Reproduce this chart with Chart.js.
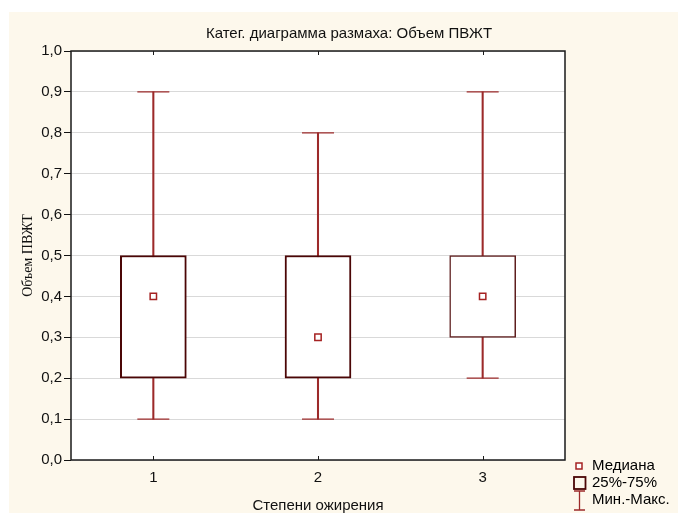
<!DOCTYPE html>
<html><head><meta charset="utf-8">
<script src="https://cdn.jsdelivr.net/npm/chart.js@4"></script>
<style>html,body{margin:0;padding:0;background:#fff;}#wrap{width:678px;height:513px;}</style>
</head><body><div id="wrap"><canvas id="c" width="678" height="513"></canvas></div>
<script>
const categories = ['1', '2', '3'];
const minValues = [0.1, 0.1, 0.2];
const q1Values = [0.2, 0.2, 0.3];
const medianValues = [0.4, 0.3, 0.4];
const q3Values = [0.5, 0.5, 0.5];
const maxValues = [0.9, 0.8, 0.9];
const yTickValues = [0, 0.1, 0.2, 0.3, 0.4, 0.5, 0.6, 0.7, 0.8, 0.9, 1.0];
const legendLabels = ['Медиана', '25%-75%', 'Мин.-Макс.'];
const chartTitle = 'Катег. диаграмма размаха: Объем ПВЖТ';
const xTitle = 'Степени ожирения';
const yTitle = 'Объем ПВЖТ';

const SANS = '"Liberation Sans", Arial, sans-serif';
const BOX_COL = '#4b0606';
const WHISK_COL = '#9c2a2a';
const MED_COL = '#a52222';

const boxData = q1Values.map((q, i) => [q, q3Values[i]]);
const whiskData = minValues.map((m, i) => [m, maxValues[i]]);

const decor = {
  id: 'decor',
  beforeDraw(chart) {
    const { ctx, chartArea: a } = chart;
    ctx.save();
    ctx.fillStyle = '#fdf8ec';
    ctx.fillRect(9, 12, 669, 501);
    ctx.fillStyle = '#ffffff';
    ctx.fillRect(a.left, a.top, a.right - a.left, a.bottom - a.top);
    ctx.restore();
  },
  afterDatasetsDraw(chart) {
    const { ctx, chartArea: a, scales } = chart;
    ctx.save();
    ctx.strokeStyle = '#1a1a1a';
    ctx.lineWidth = 1.5;
    ctx.strokeRect(a.left, a.top, a.right - a.left, a.bottom - a.top);
    ctx.lineWidth = 1;
    categories.forEach((c, i) => {
      const x = Math.round(scales.x.getPixelForValue(i)) + 0.5;
      ctx.beginPath();
      ctx.moveTo(x, a.top); ctx.lineTo(x, a.top + 4);
      ctx.moveTo(x, a.bottom); ctx.lineTo(x, a.bottom - 4);
      ctx.stroke();
    });
    ctx.restore();
  },
  afterDraw(chart) {
    const { ctx } = chart;
    ctx.save();
    ctx.font = '15px ' + SANS;
    ctx.textBaseline = 'middle';
    ctx.textAlign = 'left';
    const ys = [466, 483, 500];
    ctx.strokeStyle = MED_COL; ctx.lineWidth = 1.5; ctx.fillStyle = '#fff';
    ctx.fillRect(576, 463, 6, 6); ctx.strokeRect(576, 463, 6, 6);
    ctx.strokeStyle = BOX_COL; ctx.lineWidth = 1.8;
    ctx.strokeRect(574, 477, 11.5, 12);
    ctx.strokeStyle = WHISK_COL; ctx.lineWidth = 1.3;
    ctx.beginPath();
    ctx.moveTo(579.5, 491); ctx.lineTo(579.5, 510);
    ctx.moveTo(574, 491); ctx.lineTo(585, 491);
    ctx.moveTo(574, 510); ctx.lineTo(585, 510);
    ctx.stroke();
    ctx.fillStyle = '#000';
    legendLabels.forEach((t, i) => ctx.fillText(t, 592, ys[i]));
    ctx.restore();
  }
};

new Chart(document.getElementById('c'), {
  type: 'bar',
  data: {
    labels: categories,
    datasets: [
      { type: 'line', label: 'median', data: medianValues, showLine: false, order: 0,
        pointStyle: 'rect', pointRadius: 4.5, pointBackgroundColor: '#fff',
        pointBorderColor: MED_COL, pointBorderWidth: 1.5 },
      { type: 'line', label: 'max', data: maxValues, showLine: false, order: 1,
        pointStyle: 'line', pointRadius: 16, pointBorderColor: WHISK_COL, pointBorderWidth: 1.3 },
      { type: 'line', label: 'min', data: minValues, showLine: false, order: 1,
        pointStyle: 'line', pointRadius: 16, pointBorderColor: WHISK_COL, pointBorderWidth: 1.3 },
      { type: 'bar', label: 'box', data: boxData, order: 2, grouped: false,
        barThickness: 66, backgroundColor: '#ffffff',
        borderColor: [BOX_COL, BOX_COL, '#5e1e1e'], borderWidth: [2, 2, 1.5], borderSkipped: false },
      { type: 'bar', label: 'whisker', data: whiskData, order: 3, grouped: false,
        barThickness: 1.4, backgroundColor: WHISK_COL, borderWidth: 0 }
    ]
  },
  options: {
    responsive: false,
    animation: false,
    events: [],
    layout: { padding: { left: 20, right: 0, top: 0, bottom: 0 } },
    plugins: {
      legend: { display: false },
      tooltip: { enabled: false },
      title: { display: true, text: chartTitle, color: '#111',
        font: { family: SANS, size: 15, weight: 'normal' }, padding: { top: 25, bottom: 8 } }
    },
    scales: {
      x: {
        offset: true,
        grid: { display: false, drawTicks: false, tickLength: 0 },
        border: { display: false },
        afterFit(s) { s.height = 53; },
        ticks: { color: '#111', font: { family: SANS, size: 15 }, padding: 9 },
        title: { display: true, text: xTitle, color: '#111',
          font: { family: SANS, size: 15 }, padding: { top: 8, bottom: -2 } }
      },
      y: {
        min: 0, max: 1,
        afterBuildTicks(s) { s.ticks = yTickValues.map(v => ({ value: v })); },
        afterFit(s) { s.width = 51; },
        grid: { color: '#d9d9d9', lineWidth: 1, tickColor: '#111', tickLength: 7, tickWidth: 1 },
        border: { display: false },
        ticks: { color: '#111', font: { family: SANS, size: 15 }, padding: 2,
          callback: v => Number(v).toFixed(1).replace('.', ',') },
        title: { display: true, text: yTitle, color: '#111',
          font: { family: '"Liberation Serif", "Times New Roman", serif', size: 14 }, padding: { top: 0, bottom: 0 } }
      },
      yR: {
        position: 'right', display: true, min: 0, max: 1,
        grid: { display: false }, border: { display: false }, ticks: { display: false },
        afterFit(s) { s.width = 113; }
      }
    }
  },
  plugins: [decor]
});
</script></body></html>
